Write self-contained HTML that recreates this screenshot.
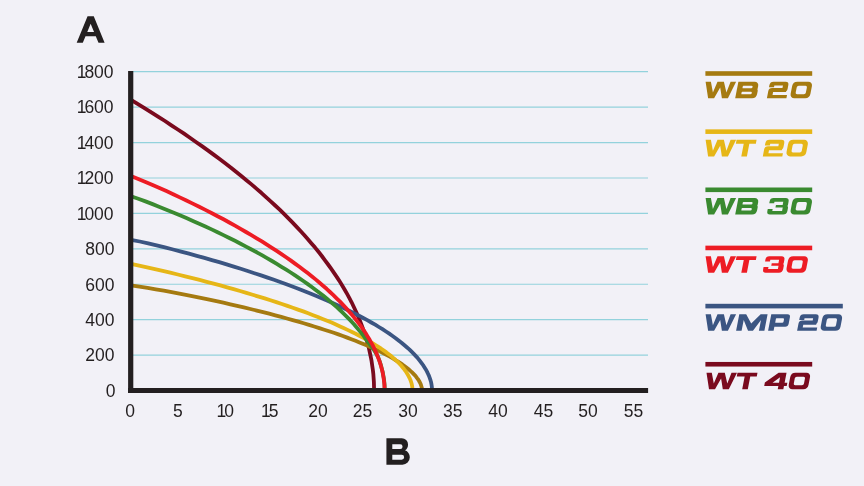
<!DOCTYPE html>
<html><head><meta charset="utf-8"><title>Chart</title>
<style>
html,body{margin:0;padding:0;background:#f2f1f7;}
body{width:864px;height:486px;overflow:hidden;}
svg{display:block;will-change:transform;}
text{font-family:"Liberation Sans",sans-serif;fill:#231f20;}
.ax{font-size:17.5px;}
.big{font-weight:bold;}
</style></head><body>
<svg width="864" height="486" viewBox="0 0 864 486">
<rect width="864" height="486" fill="#f2f1f7"/>
<g stroke="#93d2dc" stroke-width="1.2">
<line x1="131" y1="355.08" x2="648" y2="355.08"/>
<line x1="131" y1="319.66" x2="648" y2="319.66"/>
<line x1="131" y1="284.24" x2="648" y2="284.24"/>
<line x1="131" y1="248.82" x2="648" y2="248.82"/>
<line x1="131" y1="213.40" x2="648" y2="213.40"/>
<line x1="131" y1="177.98" x2="648" y2="177.98"/>
<line x1="131" y1="142.56" x2="648" y2="142.56"/>
<line x1="131" y1="107.14" x2="648" y2="107.14"/>
<line x1="131" y1="71.72" x2="648" y2="71.72"/>
</g>
<g fill="none" stroke-width="3.8" stroke-linejoin="round">
<path d="M131.0 99.8L138.0 104.1L144.9 108.3L151.7 112.6L158.4 116.8L165.0 121.0L171.4 125.3L177.8 129.5L184.1 133.7L190.3 138.0L196.3 142.2L202.3 146.4L208.2 150.6L214.0 154.9L219.6 159.1L225.2 163.3L230.7 167.5L236.0 171.8L241.3 176.0L246.4 180.2L251.5 184.4L256.4 188.6L261.3 192.8L266.0 197.1L270.7 201.3L275.2 205.5L279.7 209.7L284.0 213.9L288.2 218.1L292.4 222.4L296.4 226.6L300.3 230.8L304.2 235.0L307.9 239.2L311.5 243.4L315.1 247.6L318.5 251.8L321.8 256.0L325.0 260.3L328.1 264.5L331.1 268.7L334.0 272.9L336.9 277.1L339.6 281.3L342.2 285.5L344.7 289.7L347.1 293.9L349.4 298.1L351.6 302.3L353.6 306.5L355.6 310.7L357.5 314.9L359.3 319.1L361.0 323.4L362.6 327.6L364.1 331.8L365.4 336.0L366.7 340.2L367.9 344.4L369.0 348.6L369.9 352.8L370.8 357.0L371.6 361.2L372.2 365.4L372.8 369.6L373.3 373.7L373.6 377.9L373.9 382.1L374.0 386.3L374.1 390.5" stroke="#7a0a1e"/>
<path d="M131.0 285.4L139.4 286.6L147.6 287.9L155.8 289.3L163.8 290.7L171.7 292.1L179.4 293.6L187.1 295.1L194.6 296.6L202.0 298.1L209.3 299.7L216.4 301.2L223.4 302.7L230.4 304.3L237.1 305.9L243.8 307.4L250.4 309.0L256.8 310.6L263.1 312.1L269.2 313.7L275.3 315.3L281.2 316.9L287.0 318.5L292.7 320.1L298.3 321.7L303.7 323.3L309.0 324.9L314.2 326.5L319.3 328.1L324.3 329.7L329.1 331.2L333.8 332.8L338.4 334.4L342.9 336.0L347.2 337.6L351.4 339.2L355.5 340.8L359.5 342.4L363.3 344.0L367.1 345.6L370.7 347.2L374.2 348.8L377.5 350.3L380.8 351.9L383.9 353.5L386.9 355.1L389.8 356.6L392.5 358.2L395.1 359.8L397.6 361.3L400.0 362.9L402.3 364.4L404.4 366.0L406.4 367.5L408.3 369.0L410.1 370.6L411.8 372.1L413.3 373.6L414.7 375.1L416.0 376.6L417.1 378.1L418.2 379.5L419.1 381.0L419.9 382.5L420.6 383.9L421.1 385.3L421.5 386.7L421.9 388.0L422.0 389.3L422.1 390.5" stroke="#a57a10"/>
<path d="M131.0 263.9L139.1 265.6L147.1 267.3L154.9 269.1L162.7 270.9L170.3 272.7L177.8 274.5L185.2 276.3L192.5 278.1L199.6 279.9L206.7 281.8L213.6 283.6L220.4 285.4L227.1 287.3L233.6 289.1L240.1 291.0L246.4 292.8L252.6 294.7L258.7 296.6L264.7 298.4L270.5 300.3L276.3 302.1L281.9 304.0L287.4 305.9L292.8 307.7L298.0 309.6L303.2 311.4L308.2 313.3L313.1 315.2L317.9 317.0L322.6 318.9L327.1 320.8L331.6 322.6L335.9 324.5L340.1 326.4L344.1 328.2L348.1 330.1L352.0 332.0L355.7 333.8L359.3 335.7L362.8 337.6L366.1 339.4L369.4 341.3L372.5 343.1L375.5 345.0L378.4 346.9L381.2 348.7L383.9 350.6L386.4 352.4L388.8 354.3L391.2 356.1L393.3 358.0L395.4 359.8L397.4 361.7L399.2 363.5L400.9 365.3L402.5 367.2L404.0 369.0L405.3 370.8L406.6 372.7L407.7 374.5L408.7 376.3L409.6 378.1L410.4 379.9L411.0 381.7L411.6 383.5L412.0 385.3L412.3 387.1L412.4 388.8L412.5 390.5" stroke="#e6b617"/>
<path d="M131.0 239.8L139.7 241.5L148.2 243.4L156.6 245.4L164.9 247.4L173.1 249.5L181.1 251.6L189.0 253.7L196.8 255.8L204.4 257.9L211.9 260.1L219.3 262.2L226.6 264.4L233.8 266.6L240.8 268.8L247.7 271.0L254.4 273.2L261.1 275.4L267.6 277.6L274.0 279.8L280.2 282.0L286.4 284.3L292.4 286.5L298.3 288.7L304.0 291.0L309.7 293.2L315.2 295.5L320.5 297.7L325.8 300.0L330.9 302.2L335.9 304.5L340.8 306.7L345.5 309.0L350.1 311.2L354.6 313.5L359.0 315.7L363.2 318.0L367.3 320.2L371.3 322.5L375.2 324.7L378.9 327.0L382.5 329.2L386.0 331.5L389.3 333.7L392.6 336.0L395.7 338.2L398.6 340.5L401.5 342.7L404.2 345.0L406.8 347.2L409.3 349.4L411.6 351.7L413.8 353.9L415.9 356.1L417.9 358.3L419.7 360.6L421.4 362.8L423.0 365.0L424.4 367.2L425.8 369.4L427.0 371.6L428.0 373.7L429.0 375.9L429.8 378.1L430.5 380.2L431.1 382.3L431.5 384.4L431.8 386.5L432.0 388.6L432.1 390.5" stroke="#3b5582"/>
<path d="M131.0 196.3L138.3 198.8L145.5 201.4L152.6 204.1L159.6 206.9L166.4 209.7L173.2 212.4L179.9 215.2L186.4 218.0L192.9 220.9L199.2 223.7L205.4 226.5L211.6 229.4L217.6 232.2L223.5 235.1L229.3 238.0L235.0 240.8L240.6 243.7L246.1 246.6L251.5 249.5L256.8 252.3L261.9 255.2L267.0 258.1L272.0 261.0L276.8 263.9L281.5 266.8L286.2 269.7L290.7 272.5L295.1 275.4L299.5 278.3L303.7 281.2L307.8 284.1L311.8 287.0L315.7 289.9L319.4 292.8L323.1 295.6L326.7 298.5L330.1 301.4L333.5 304.3L336.8 307.1L339.9 310.0L342.9 312.9L345.9 315.8L348.7 318.6L351.4 321.5L354.0 324.3L356.5 327.2L358.9 330.1L361.2 332.9L363.4 335.7L365.5 338.6L367.5 341.4L369.7 344.2L371.9 347.1L373.9 349.9L375.7 352.7L377.3 355.5L378.6 358.3L379.6 361.1L380.5 363.8L381.3 366.6L382.0 369.4L382.7 372.1L383.2 374.8L383.7 377.5L384.1 380.2L384.4 382.9L384.6 385.5L384.7 388.1L384.7 390.5" stroke="#3a8a30"/>
<path d="M131.0 175.9L138.3 178.9L145.5 181.9L152.6 185.0L159.5 188.0L166.4 191.1L173.2 194.2L179.8 197.4L186.4 200.5L192.8 203.6L199.2 206.8L205.4 209.9L211.5 213.0L217.6 216.2L223.5 219.3L229.3 222.5L235.0 225.6L240.6 228.8L246.0 232.0L251.4 235.1L256.7 238.3L261.9 241.4L266.9 244.6L271.9 247.8L276.7 250.9L281.5 254.1L286.1 257.3L290.6 260.4L295.0 263.6L299.4 266.7L303.6 269.9L307.7 273.1L311.7 276.2L315.6 279.4L319.3 282.5L323.0 285.7L326.6 288.8L330.0 292.0L333.4 295.1L336.6 298.3L339.8 301.4L342.8 304.6L345.8 307.7L348.6 310.9L351.3 314.0L353.9 317.1L356.4 320.3L358.8 323.4L361.1 326.5L363.3 329.7L365.4 332.8L367.3 335.9L369.2 339.0L370.9 342.1L372.6 345.2L374.1 348.3L375.6 351.4L376.9 354.5L378.1 357.6L379.3 360.6L380.3 363.7L381.2 366.8L382.0 369.8L382.7 372.8L383.2 375.8L383.7 378.8L384.1 381.8L384.4 384.8L384.5 387.7L384.6 390.5" stroke="#ed1c24"/>
</g>
<rect x="128.1" y="71" width="5.2" height="322" fill="#231f20"/>
<rect x="128.1" y="388" width="520" height="5" fill="#231f20"/>
<text class="ax" x="115.6" y="396.80" text-anchor="end">0</text>
<text class="ax" x="114.5" y="361.38" text-anchor="end">200</text>
<text class="ax" x="114.5" y="325.96" text-anchor="end">400</text>
<text class="ax" x="114.5" y="290.54" text-anchor="end">600</text>
<text class="ax" x="114.5" y="255.12" text-anchor="end">800</text>
<text class="ax" x="113.6" y="219.70" text-anchor="end">1<tspan dx="-2">000</tspan></text>
<text class="ax" x="113.6" y="184.28" text-anchor="end">1<tspan dx="-2">200</tspan></text>
<text class="ax" x="113.6" y="148.86" text-anchor="end">1<tspan dx="-2">400</tspan></text>
<text class="ax" x="113.6" y="113.44" text-anchor="end">1<tspan dx="-2">600</tspan></text>
<text class="ax" x="113.6" y="78.02" text-anchor="end">1<tspan dx="-2">800</tspan></text>
<text class="ax" x="130.2" y="416.6" text-anchor="middle">0</text>
<text class="ax" x="177.8" y="416.6" text-anchor="middle">5</text>
<text class="ax" x="225.2" y="416.6" text-anchor="middle">1<tspan dx="-2">0</tspan></text>
<text class="ax" x="269.8" y="416.6" text-anchor="middle">1<tspan dx="-2">5</tspan></text>
<text class="ax" x="318.1" y="416.6" text-anchor="middle">20</text>
<text class="ax" x="362.6" y="416.6" text-anchor="middle">25</text>
<text class="ax" x="408.1" y="416.6" text-anchor="middle">30</text>
<text class="ax" x="452.8" y="416.6" text-anchor="middle">35</text>
<text class="ax" x="498.0" y="416.6" text-anchor="middle">40</text>
<text class="ax" x="543.5" y="416.6" text-anchor="middle">45</text>
<text class="ax" x="588.1" y="416.6" text-anchor="middle">50</text>
<text class="ax" x="633.4" y="416.6" text-anchor="middle">55</text>
<path fill="#231f20" fill-rule="evenodd" d="M87.55 16.30L93.75 16.30L104.60 42.80L98.50 42.80L95.78 36.15L85.52 36.15L82.80 42.80L76.70 42.80ZM90.65 23.63L87.26 31.90L94.04 31.90Z"/>
<path fill="#231f20" fill-rule="evenodd" d="M386.42 438.18L401.8 438.18A6.25 6.25 0 0 1 408.05 444.43C408.05 447.2 406.9 449.3 405 450.3C407.9 451.4 409.8 454 409.8 457.3A7.35 7.35 0 0 1 402.45 464.65L386.42 464.65ZM392.29 444.36L400.3 444.36A2.26 2.26 0 0 1 400.3 448.89L392.29 448.89ZM392.29 454.87L401.66 454.87A2.47 2.47 0 0 1 401.66 459.81L392.29 459.81Z"/>
<rect x="705.4" y="71.20" width="106.8" height="4.6" fill="#a57a10"/>
<g fill="#a57a10">
<path transform="translate(705.60 81.70)" d="M0 0L5.3 0L7.3 10.9L11.9 0L18.3 0L20.8 10.9L25 0L30.5 0L22.3 16.55L16.3 16.55L14.6 5.8L8.5 16.55L2.5 16.55Z"/>
<path transform="matrix(1 0 -0.193 1 738.39 81.70)" d="M0 0L16.4 0A4.2 4.2 0 0 1 20.6 4.2L20.6 7.08A2.6 2.6 0 0 1 18 9.68L0 9.68L0 0ZM0 6.88L18.5 6.88A2.6 2.6 0 0 1 21.1 9.47L21.1 12.35A4.2 4.2 0 0 1 16.9 16.55L0 16.55L0 6.88ZM5.8 4A0.5 0.5 0 0 0 5.3 4.5L5.3 6A0.5 0.5 0 0 0 5.8 6.5L14 6.5A1.2 1.2 0 0 0 15.2 5.3L15.2 5.2A1.2 1.2 0 0 0 14 4ZM5.8 10.05A0.5 0.5 0 0 0 5.3 10.55L5.3 12.05A0.5 0.5 0 0 0 5.8 12.55L14.4 12.55A1.2 1.2 0 0 0 15.6 11.35L15.6 11.25A1.2 1.2 0 0 0 14.4 10.05Z"/>
<path transform="matrix(1 0 -0.193 1 770.09 81.70)" d="M3.4 0L15.5 0A3.4 3.4 0 0 1 18.9 3.4L18.9 3.9L0 3.9L0 3.4A3.4 3.4 0 0 1 3.4 0ZM3.4 0L5 0L5 5.6L0 5.6L0 3.4A3.4 3.4 0 0 1 3.4 0ZM13.6 0L15.5 0A3.4 3.4 0 0 1 18.9 3.4L18.9 7A3.4 3.4 0 0 1 15.5 10.4L13.6 10.4L13.6 0ZM3.2 6.3L17.9 6.3L17.9 10.4L0 10.4L0 9.5A3.2 3.2 0 0 1 3.2 6.3ZM3.2 6.3L5 6.3L5 16.55L0 16.55L0 9.5A3.2 3.2 0 0 1 3.2 6.3ZM0 13.3L19.5 13.3L19.5 16.55L0 16.55L0 13.3Z"/>
<path transform="matrix(1 0 -0.193 1 792.99 81.70)" d="M4.4 0L15.4 0A4.4 4.4 0 0 1 19.8 4.4L19.8 12.15A4.4 4.4 0 0 1 15.4 16.55L4.4 16.55A4.4 4.4 0 0 1 0 12.15L0 4.4A4.4 4.4 0 0 1 4.4 0ZM6.5 4A1.7 1.7 0 0 0 4.8 5.7L4.8 10.85A1.7 1.7 0 0 0 6.5 12.55L13.3 12.55A1.7 1.7 0 0 0 15 10.85L15 5.7A1.7 1.7 0 0 0 13.3 4Z"/>
</g>
<rect x="705.4" y="129.35" width="106.8" height="4.6" fill="#e6b617"/>
<g fill="#e6b617">
<path transform="translate(705.60 139.85)" d="M0 0L5.3 0L7.3 10.9L11.9 0L18.3 0L20.8 10.9L25 0L30.5 0L22.3 16.55L16.3 16.55L14.6 5.8L8.5 16.55L2.5 16.55Z"/>
<path transform="matrix(1 0 -0.193 1 736.59 139.85)" d="M0 0L20 0L20 3.8L0 3.8L0 0ZM7.9 0L13.5 0L13.5 16.55L7.9 16.55L7.9 0Z"/>
<path transform="matrix(1 0 -0.193 1 765.99 139.85)" d="M3.4 0L15.5 0A3.4 3.4 0 0 1 18.9 3.4L18.9 3.9L0 3.9L0 3.4A3.4 3.4 0 0 1 3.4 0ZM3.4 0L5 0L5 5.6L0 5.6L0 3.4A3.4 3.4 0 0 1 3.4 0ZM13.6 0L15.5 0A3.4 3.4 0 0 1 18.9 3.4L18.9 7A3.4 3.4 0 0 1 15.5 10.4L13.6 10.4L13.6 0ZM3.2 6.3L17.9 6.3L17.9 10.4L0 10.4L0 9.5A3.2 3.2 0 0 1 3.2 6.3ZM3.2 6.3L5 6.3L5 16.55L0 16.55L0 9.5A3.2 3.2 0 0 1 3.2 6.3ZM0 13.3L19.5 13.3L19.5 16.55L0 16.55L0 13.3Z"/>
<path transform="matrix(1 0 -0.193 1 788.89 139.85)" d="M4.4 0L15.4 0A4.4 4.4 0 0 1 19.8 4.4L19.8 12.15A4.4 4.4 0 0 1 15.4 16.55L4.4 16.55A4.4 4.4 0 0 1 0 12.15L0 4.4A4.4 4.4 0 0 1 4.4 0ZM6.5 4A1.7 1.7 0 0 0 4.8 5.7L4.8 10.85A1.7 1.7 0 0 0 6.5 12.55L13.3 12.55A1.7 1.7 0 0 0 15 10.85L15 5.7A1.7 1.7 0 0 0 13.3 4Z"/>
</g>
<rect x="705.4" y="187.50" width="106.8" height="4.6" fill="#3a8a30"/>
<g fill="#3a8a30">
<path transform="translate(705.60 198.00)" d="M0 0L5.3 0L7.3 10.9L11.9 0L18.3 0L20.8 10.9L25 0L30.5 0L22.3 16.55L16.3 16.55L14.6 5.8L8.5 16.55L2.5 16.55Z"/>
<path transform="matrix(1 0 -0.193 1 738.39 198.00)" d="M0 0L16.4 0A4.2 4.2 0 0 1 20.6 4.2L20.6 7.08A2.6 2.6 0 0 1 18 9.68L0 9.68L0 0ZM0 6.88L18.5 6.88A2.6 2.6 0 0 1 21.1 9.47L21.1 12.35A4.2 4.2 0 0 1 16.9 16.55L0 16.55L0 6.88ZM5.8 4A0.5 0.5 0 0 0 5.3 4.5L5.3 6A0.5 0.5 0 0 0 5.8 6.5L14 6.5A1.2 1.2 0 0 0 15.2 5.3L15.2 5.2A1.2 1.2 0 0 0 14 4ZM5.8 10.05A0.5 0.5 0 0 0 5.3 10.55L5.3 12.05A0.5 0.5 0 0 0 5.8 12.55L14.4 12.55A1.2 1.2 0 0 0 15.6 11.35L15.6 11.25A1.2 1.2 0 0 0 14.4 10.05Z"/>
<path transform="matrix(1 0 -0.193 1 769.89 198.00)" d="M3.6 0L15.8 0A3.6 3.6 0 0 1 19.4 3.6L19.4 3.7L0.4 3.7L0.4 3.2A3.2 3.2 0 0 1 3.6 0ZM3.6 0L5.3 0L5.3 5.3L0.4 5.3L0.4 3.2A3.2 3.2 0 0 1 3.6 0ZM14.1 0L15.8 0A3.6 3.6 0 0 1 19.4 3.6L19.4 6.9A2 2 0 0 1 17.4 8.9L14.1 8.9L14.1 0ZM7.4 7L19 7L19 9.5L7.4 9.5L7.4 7ZM14.7 7.7L18 7.7A2 2 0 0 1 20 9.7L20 12.95A3.6 3.6 0 0 1 16.4 16.55L14.7 16.55L14.7 7.7ZM0 12.9L20 12.9L20 12.95A3.6 3.6 0 0 1 16.4 16.55L3.2 16.55A3.2 3.2 0 0 1 0 13.35L0 12.9ZM0 10.95L4.9 10.95L4.9 16.55L3.2 16.55A3.2 3.2 0 0 1 0 13.35L0 10.95Z"/>
<path transform="matrix(1 0 -0.193 1 792.99 198.00)" d="M4.4 0L15.4 0A4.4 4.4 0 0 1 19.8 4.4L19.8 12.15A4.4 4.4 0 0 1 15.4 16.55L4.4 16.55A4.4 4.4 0 0 1 0 12.15L0 4.4A4.4 4.4 0 0 1 4.4 0ZM6.5 4A1.7 1.7 0 0 0 4.8 5.7L4.8 10.85A1.7 1.7 0 0 0 6.5 12.55L13.3 12.55A1.7 1.7 0 0 0 15 10.85L15 5.7A1.7 1.7 0 0 0 13.3 4Z"/>
</g>
<rect x="705.4" y="245.65" width="106.8" height="4.6" fill="#ed1c24"/>
<g fill="#ed1c24">
<path transform="translate(705.60 256.15)" d="M0 0L5.3 0L7.3 10.9L11.9 0L18.3 0L20.8 10.9L25 0L30.5 0L22.3 16.55L16.3 16.55L14.6 5.8L8.5 16.55L2.5 16.55Z"/>
<path transform="matrix(1 0 -0.193 1 736.59 256.15)" d="M0 0L20 0L20 3.8L0 3.8L0 0ZM7.9 0L13.5 0L13.5 16.55L7.9 16.55L7.9 0Z"/>
<path transform="matrix(1 0 -0.193 1 765.69 256.15)" d="M3.6 0L15.8 0A3.6 3.6 0 0 1 19.4 3.6L19.4 3.7L0.4 3.7L0.4 3.2A3.2 3.2 0 0 1 3.6 0ZM3.6 0L5.3 0L5.3 5.3L0.4 5.3L0.4 3.2A3.2 3.2 0 0 1 3.6 0ZM14.1 0L15.8 0A3.6 3.6 0 0 1 19.4 3.6L19.4 6.9A2 2 0 0 1 17.4 8.9L14.1 8.9L14.1 0ZM7.4 7L19 7L19 9.5L7.4 9.5L7.4 7ZM14.7 7.7L18 7.7A2 2 0 0 1 20 9.7L20 12.95A3.6 3.6 0 0 1 16.4 16.55L14.7 16.55L14.7 7.7ZM0 12.9L20 12.9L20 12.95A3.6 3.6 0 0 1 16.4 16.55L3.2 16.55A3.2 3.2 0 0 1 0 13.35L0 12.9ZM0 10.95L4.9 10.95L4.9 16.55L3.2 16.55A3.2 3.2 0 0 1 0 13.35L0 10.95Z"/>
<path transform="matrix(1 0 -0.193 1 788.89 256.15)" d="M4.4 0L15.4 0A4.4 4.4 0 0 1 19.8 4.4L19.8 12.15A4.4 4.4 0 0 1 15.4 16.55L4.4 16.55A4.4 4.4 0 0 1 0 12.15L0 4.4A4.4 4.4 0 0 1 4.4 0ZM6.5 4A1.7 1.7 0 0 0 4.8 5.7L4.8 10.85A1.7 1.7 0 0 0 6.5 12.55L13.3 12.55A1.7 1.7 0 0 0 15 10.85L15 5.7A1.7 1.7 0 0 0 13.3 4Z"/>
</g>
<rect x="705.4" y="303.80" width="137.4" height="4.6" fill="#3b5582"/>
<g fill="#3b5582">
<path transform="translate(705.60 314.30)" d="M0 0L5.3 0L7.3 10.9L11.9 0L18.3 0L20.8 10.9L25 0L30.5 0L22.3 16.55L16.3 16.55L14.6 5.8L8.5 16.55L2.5 16.55Z"/>
<path transform="matrix(1 0 -0.193 1 739.29 314.30)" d="M0 16.55L0 0L6.9 0L13.7 9.2L21.4 0L28.3 0L28.3 16.55L22.8 16.55L22.8 5.6L16.85 16.55L11.95 16.55L5.5 5.6L5.5 16.55Z"/>
<path transform="matrix(1 0 -0.193 1 771.29 314.30)" d="M0 0L5.5 0L5.5 16.55L0 16.55L0 0ZM0 0L16.2 0A3 3 0 0 1 19.2 3L19.2 9.4A3 3 0 0 1 16.2 12.4L0 12.4L0 0ZM6 4A0.5 0.5 0 0 0 5.5 4.5L5.5 7.9A0.5 0.5 0 0 0 6 8.4L12.5 8.4A1.2 1.2 0 0 0 13.7 7.2L13.7 5.2A1.2 1.2 0 0 0 12.5 4Z"/>
<path transform="matrix(1 0 -0.193 1 800.29 314.30)" d="M3.4 0L15.5 0A3.4 3.4 0 0 1 18.9 3.4L18.9 3.9L0 3.9L0 3.4A3.4 3.4 0 0 1 3.4 0ZM3.4 0L5 0L5 5.6L0 5.6L0 3.4A3.4 3.4 0 0 1 3.4 0ZM13.6 0L15.5 0A3.4 3.4 0 0 1 18.9 3.4L18.9 7A3.4 3.4 0 0 1 15.5 10.4L13.6 10.4L13.6 0ZM3.2 6.3L17.9 6.3L17.9 10.4L0 10.4L0 9.5A3.2 3.2 0 0 1 3.2 6.3ZM3.2 6.3L5 6.3L5 16.55L0 16.55L0 9.5A3.2 3.2 0 0 1 3.2 6.3ZM0 13.3L19.5 13.3L19.5 16.55L0 16.55L0 13.3Z"/>
<path transform="matrix(1 0 -0.193 1 823.09 314.30)" d="M4.4 0L15.4 0A4.4 4.4 0 0 1 19.8 4.4L19.8 12.15A4.4 4.4 0 0 1 15.4 16.55L4.4 16.55A4.4 4.4 0 0 1 0 12.15L0 4.4A4.4 4.4 0 0 1 4.4 0ZM6.5 4A1.7 1.7 0 0 0 4.8 5.7L4.8 10.85A1.7 1.7 0 0 0 6.5 12.55L13.3 12.55A1.7 1.7 0 0 0 15 10.85L15 5.7A1.7 1.7 0 0 0 13.3 4Z"/>
</g>
<rect x="705.4" y="361.95" width="106.8" height="4.6" fill="#7a0a1e"/>
<g fill="#7a0a1e">
<path transform="translate(706.50 372.65)" d="M0 0L5.3 0L7.3 10.9L11.9 0L18.3 0L20.8 10.9L25 0L30.5 0L22.3 16.55L16.3 16.55L14.6 5.8L8.5 16.55L2.5 16.55Z"/>
<path transform="matrix(1 0 -0.193 1 737.49 372.65)" d="M0 0L20 0L20 3.8L0 3.8L0 0ZM7.9 0L13.5 0L13.5 16.55L7.9 16.55L7.9 0Z"/>
<path transform="matrix(1 0 -0.193 1 767.09 372.65)" d="M11.55 0L19.45 0L19.45 10L22.2 10L22.2 13.3L19.45 13.3L19.45 16.55L13.85 16.55L13.85 13.3L-0.3 13.3L-0.3 9.96ZM7.4 10L13.85 10L13.85 4.6Z"/>
<path transform="matrix(1 0 -0.193 1 791.09 372.65)" d="M4.4 0L15.4 0A4.4 4.4 0 0 1 19.8 4.4L19.8 12.15A4.4 4.4 0 0 1 15.4 16.55L4.4 16.55A4.4 4.4 0 0 1 0 12.15L0 4.4A4.4 4.4 0 0 1 4.4 0ZM6.5 4A1.7 1.7 0 0 0 4.8 5.7L4.8 10.85A1.7 1.7 0 0 0 6.5 12.55L13.3 12.55A1.7 1.7 0 0 0 15 10.85L15 5.7A1.7 1.7 0 0 0 13.3 4Z"/>
</g>
</svg>
</body></html>
